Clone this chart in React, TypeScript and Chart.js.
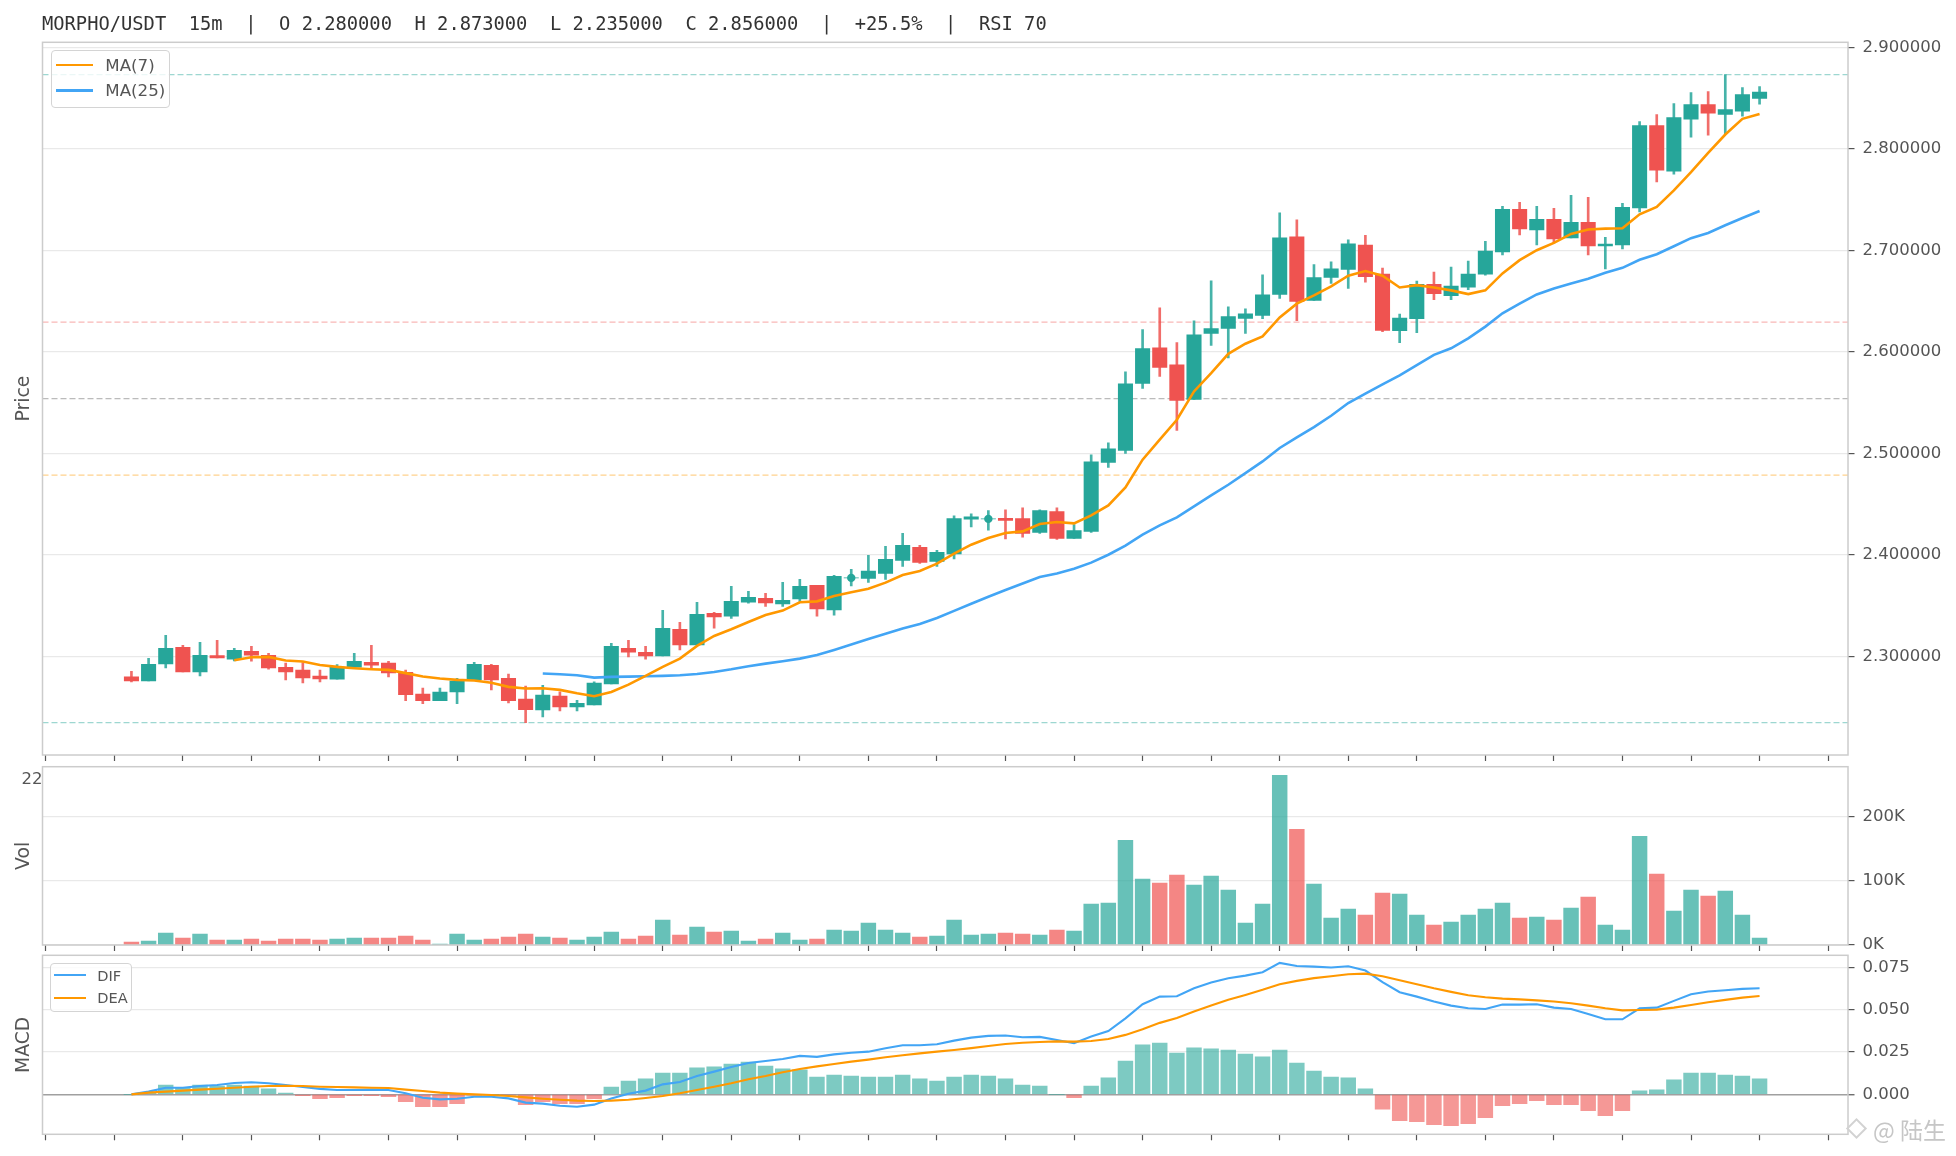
import React, { useEffect, useRef } from 'react';
import { Chart, registerables } from 'chart.js';

Chart.register(...registerables);

// ---------------- data ----------------
const opens = [
  2.2800, 2.2761, 2.2928, 2.3092, 2.2850, 2.3010, 2.2974, 2.3052, 2.3013, 2.2895,
  2.2866, 2.2807, 2.2778, 2.2895, 2.2944, 2.2935, 2.2846, 2.2630, 2.2565, 2.2653,
  2.2774, 2.2915, 2.2787, 2.2581, 2.2475, 2.2610, 2.2505, 2.2524, 2.2731, 2.3082,
  2.3043, 2.3007, 2.3269, 2.3115, 2.3426, 2.3397, 2.3535, 2.3574, 2.3518, 2.3567,
  2.3702, 2.3459, 2.3775, 2.3771, 2.3820, 2.3948, 2.4076, 2.3938, 2.4010, 2.4354,
  2.4356, 2.4361, 2.4358, 2.4223, 2.4427, 2.4164, 2.4233, 2.4912, 2.5031, 2.5690,
  2.6041, 2.5874, 2.5533, 2.6183, 2.6232, 2.6330, 2.6360, 2.6567, 2.7134, 2.6507,
  2.6734, 2.6813, 2.7051, 2.6766, 2.6210, 2.6328, 2.6665, 2.6553, 2.6638, 2.6766,
  2.6985, 2.7404, 2.7201, 2.7306, 2.7123, 2.7277, 2.7044, 2.7054, 2.7417, 2.8229,
  2.7781, 2.8291, 2.8435, 2.8340, 2.8370, 2.8497,
];
const highs = [
  2.2856, 2.2984, 2.3209, 2.3111, 2.3141, 2.3160, 2.3082, 2.3101, 2.3033, 2.2935,
  2.2941, 2.2866, 2.2922, 2.3033, 2.3111, 2.2954, 2.2866, 2.2689, 2.2689, 2.2787,
  2.2944, 2.2925, 2.2827, 2.2709, 2.2718, 2.2652, 2.2570, 2.2751, 2.3131, 2.3161,
  2.3102, 2.3456, 2.3338, 2.3535, 2.3436, 2.3692, 2.3643, 2.3623, 2.3731, 2.3761,
  2.3702, 2.3800, 2.3859, 2.3997, 2.4086, 2.4214, 2.4096, 2.4046, 2.4387, 2.4407,
  2.4437, 2.4446, 2.4466, 2.4446, 2.4466, 2.4299, 2.4988, 2.5106, 2.5805, 2.6219,
  2.6435, 2.6091, 2.6307, 2.6701, 2.6445, 2.6425, 2.6760, 2.7371, 2.7302, 2.6859,
  2.6888, 2.7105, 2.7149, 2.6825, 2.6373, 2.6697, 2.6786, 2.6835, 2.6894, 2.7090,
  2.7434, 2.7473, 2.7434, 2.7414, 2.7542, 2.7522, 2.7129, 2.7463, 2.8268, 2.8337,
  2.8445, 2.8553, 2.8563, 2.8730, 2.8602, 2.8612,
];
const lows = [
  2.2751, 2.2761, 2.2889, 2.2850, 2.2810, 2.2987, 2.2957, 2.2954, 2.2876, 2.2771,
  2.2742, 2.2751, 2.2778, 2.2895, 2.2876, 2.2801, 2.2565, 2.2536, 2.2565, 2.2536,
  2.2774, 2.2673, 2.2545, 2.2350, 2.2406, 2.2465, 2.2465, 2.2524, 2.2731, 2.2997,
  2.2974, 2.3007, 2.3066, 2.3115, 2.3279, 2.3377, 2.3525, 2.3495, 2.3495, 2.3544,
  2.3397, 2.3407, 2.3695, 2.3731, 2.3761, 2.3889, 2.3918, 2.3889, 2.3961, 2.4276,
  2.4246, 2.4158, 2.4177, 2.4213, 2.4154, 2.4164, 2.4223, 2.4863, 2.5001, 2.5641,
  2.5759, 2.5227, 2.5533, 2.6064, 2.5940, 2.6183, 2.6327, 2.6527, 2.6307, 2.6507,
  2.6675, 2.6626, 2.6688, 2.6200, 2.6092, 2.6190, 2.6514, 2.6514, 2.6612, 2.6756,
  2.6956, 2.7152, 2.7054, 2.7074, 2.7123, 2.6956, 2.6818, 2.7015, 2.7378, 2.7673,
  2.7751, 2.8115, 2.8134, 2.8144, 2.8321, 2.8439,
];
const closes = [
  2.2761, 2.2925, 2.3082, 2.2850, 2.3013, 2.2987, 2.3062, 2.3013, 2.2889, 2.2850,
  2.2791, 2.2781, 2.2895, 2.2954, 2.2915, 2.2840, 2.2624, 2.2565, 2.2650, 2.2758,
  2.2925, 2.2771, 2.2565, 2.2477, 2.2620, 2.2505, 2.2541, 2.2738, 2.3102, 2.3043,
  2.3007, 2.3279, 2.3115, 2.3417, 2.3390, 2.3544, 2.3584, 2.3528, 2.3554, 2.3692,
  2.3469, 2.3790, 2.3775, 2.3843, 2.3958, 2.4096, 2.3928, 2.4027, 2.4358, 2.4377,
  2.4356, 2.4341, 2.4213, 2.4437, 2.4164, 2.4240, 2.4919, 2.5047, 2.5687, 2.6032,
  2.5848, 2.5523, 2.6169, 2.6229, 2.6347, 2.6376, 2.6563, 2.7124, 2.6498, 2.6731,
  2.6819, 2.7065, 2.6740, 2.6213, 2.6334, 2.6665, 2.6573, 2.6648, 2.6766, 2.6992,
  2.7404, 2.7211, 2.7306, 2.7113, 2.7277, 2.7044, 2.7061, 2.7424, 2.8229, 2.7791,
  2.8308, 2.8435, 2.8350, 2.8386, 2.8533, 2.8560,
];
const ma7 = [
  null, null, null, null, null, null,
  2.2964, 2.2993, 2.2997, 2.2961, 2.2951, 2.2918, 2.2899, 2.2886, 2.2876, 2.2869,
  2.2837, 2.2804, 2.2784, 2.2771, 2.2765, 2.2742, 2.2702, 2.2686, 2.2688, 2.2672,
  2.2639, 2.2610, 2.2652, 2.2724, 2.2810, 2.2898, 2.2980, 2.3105, 2.3203, 2.3269,
  2.3341, 2.3410, 2.3453, 2.3535, 2.3544, 2.3597, 2.3633, 2.3669, 2.3728, 2.3804,
  2.3843, 2.3915, 2.4013, 2.4102, 2.4167, 2.4217, 2.4233, 2.4305, 2.4325, 2.4312,
  2.4391, 2.4489, 2.4666, 2.4939, 2.5136, 2.5332, 2.5611, 2.5792, 2.5982, 2.6081,
  2.6153, 2.6340, 2.6475, 2.6557, 2.6645, 2.6750, 2.6796, 2.6750, 2.6635, 2.6658,
  2.6635, 2.6606, 2.6570, 2.6606, 2.6773, 2.6904, 2.7002, 2.7074, 2.7162, 2.7205,
  2.7214, 2.7218, 2.7355, 2.7427, 2.7591, 2.7771, 2.7961, 2.8141, 2.8295, 2.8344,
];
const ma25 = [
  null, null, null, null, null, null, null, null, null, null, null, null,
  null, null, null, null, null, null, null, null, null, null, null, null,
  2.2833, 2.2826, 2.2816, 2.2793, 2.2800, 2.2803, 2.2806, 2.2810, 2.2816, 2.2829,
  2.2849, 2.2875, 2.2905, 2.2931, 2.2954, 2.2980, 2.3016, 2.3066, 2.3118, 2.3174,
  2.3226, 2.3276, 2.3321, 2.3380, 2.3450, 2.3520, 2.3590, 2.3655, 2.3720, 2.3783,
  2.3819, 2.3865, 2.3925, 2.4003, 2.4092, 2.4200, 2.4292, 2.4371, 2.4479, 2.4587,
  2.4692, 2.4807, 2.4922, 2.5054, 2.5159, 2.5260, 2.5372, 2.5497, 2.5590, 2.5680,
  2.5770, 2.5870, 2.5971, 2.6036, 2.6134, 2.6249, 2.6380, 2.6475, 2.6566, 2.6625,
  2.6674, 2.6720, 2.6779, 2.6828, 2.6907, 2.6962, 2.7041, 2.7120, 2.7172, 2.7247,
  2.7319, 2.7388,
];
const volumes = [
  4700, 6200, 18600, 10900, 17100, 7800, 7800, 9300, 6200, 9300,
  9300, 7800, 9300, 10900, 10900, 10900, 14000, 7800, 1600, 17100,
  7800, 9300, 12400, 17100, 12400, 10900, 7800, 12400, 20200, 9300,
  14000, 38800, 15500, 27900, 20200, 21700, 6200, 9300, 18600, 7800,
  9300, 23300, 21700, 34100, 23300, 18600, 12400, 14000, 38800, 15500,
  17100, 18600, 17100, 15500, 23300, 21700, 63600, 65100, 162800, 102300,
  96100, 108500, 93000, 107000, 85300, 34100, 63600, 263600, 179800, 94600,
  41900, 55800, 46500, 80600, 79100, 46500, 31000, 35700, 46500, 55800,
  65100, 41900, 43400, 38800, 57400, 74400, 31000, 23300, 169000, 110100,
  52700, 85300, 76000, 83700, 46500, 10900,
];
const dif = [
  0.0000, 0.0016, 0.0039, 0.0039, 0.0049, 0.0055, 0.0067, 0.0071, 0.0065, 0.0055,
  0.0043, 0.0032, 0.0026, 0.0026, 0.0028, 0.0026, 0.0006, -0.0020, -0.0030, -0.0026,
  -0.0014, -0.0014, -0.0024, -0.0049, -0.0055, -0.0067, -0.0073, -0.0061, -0.0024, 0.0004,
  0.0022, 0.0059, 0.0073, 0.0108, 0.0134, 0.0162, 0.0185, 0.0197, 0.0209, 0.0227,
  0.0221, 0.0236, 0.0246, 0.0252, 0.0272, 0.0290, 0.0290, 0.0296, 0.0317, 0.0335,
  0.0345, 0.0347, 0.0337, 0.0339, 0.0321, 0.0302, 0.0341, 0.0374, 0.0449, 0.0532,
  0.0577, 0.0579, 0.0626, 0.0660, 0.0686, 0.0701, 0.0721, 0.0776, 0.0758, 0.0754,
  0.0749, 0.0756, 0.0731, 0.0662, 0.0603, 0.0577, 0.0548, 0.0524, 0.0508, 0.0504,
  0.0530, 0.0530, 0.0532, 0.0512, 0.0504, 0.0475, 0.0443, 0.0443, 0.0508, 0.0512,
  0.0552, 0.0591, 0.0607, 0.0615, 0.0623, 0.0626,
];
const dea = [
  0.0000, 0.0010, 0.0016, 0.0022, 0.0028, 0.0033, 0.0039, 0.0045, 0.0049, 0.0051,
  0.0049, 0.0045, 0.0043, 0.0041, 0.0039, 0.0037, 0.0028, 0.0020, 0.0010, 0.0004,
  0.0000, -0.0004, -0.0010, -0.0018, -0.0026, -0.0032, -0.0037, -0.0039, -0.0037, -0.0032,
  -0.0022, -0.0010, 0.0006, 0.0026, 0.0045, 0.0065, 0.0089, 0.0108, 0.0130, 0.0150,
  0.0165, 0.0179, 0.0193, 0.0205, 0.0219, 0.0231, 0.0242, 0.0252, 0.0262, 0.0273,
  0.0285, 0.0297, 0.0305, 0.0309, 0.0313, 0.0311, 0.0315, 0.0327, 0.0351, 0.0384,
  0.0422, 0.0451, 0.0489, 0.0524, 0.0558, 0.0587, 0.0617, 0.0650, 0.0670, 0.0686,
  0.0697, 0.0709, 0.0713, 0.0697, 0.0674, 0.0650, 0.0626, 0.0605, 0.0585, 0.0573,
  0.0565, 0.0561, 0.0555, 0.0548, 0.0538, 0.0524, 0.0508, 0.0496, 0.0498, 0.0500,
  0.0512, 0.0528, 0.0544, 0.0558, 0.0571, 0.0581,
];
const macdHist = [
  0.0000, 0.0008, 0.0055, 0.0039, 0.0055, 0.0049, 0.0055, 0.0049, 0.0032, 0.0008,
  -0.0008, -0.0026, -0.0020, -0.0008, -0.0008, -0.0014, -0.0043, -0.0073, -0.0073, -0.0055,
  -0.0004, 0.0000, -0.0004, -0.0061, -0.0043, -0.0055, -0.0055, -0.0026, 0.0043, 0.0079,
  0.0091, 0.0126, 0.0126, 0.0156, 0.0162, 0.0179, 0.0191, 0.0167, 0.0150, 0.0144,
  0.0102, 0.0114, 0.0108, 0.0102, 0.0102, 0.0114, 0.0091, 0.0079, 0.0102, 0.0114,
  0.0108, 0.0091, 0.0055, 0.0049, 0.0000, -0.0020, 0.0049, 0.0097, 0.0197, 0.0292,
  0.0303, 0.0244, 0.0274, 0.0268, 0.0262, 0.0238, 0.0221, 0.0262, 0.0185, 0.0138,
  0.0102, 0.0097, 0.0032, -0.0087, -0.0156, -0.0162, -0.0179, -0.0185, -0.0173, -0.0138,
  -0.0067, -0.0055, -0.0037, -0.0061, -0.0061, -0.0097, -0.0126, -0.0097, 0.0020, 0.0026,
  0.0085, 0.0126, 0.0126, 0.0114, 0.0108, 0.0091,
];
// Fibonacci retracement levels between the period low and high
const fibLevels = [2.873, 2.6293, 2.554, 2.4787, 2.235];
const priceTicks = [2.3, 2.4, 2.5, 2.6, 2.7, 2.8, 2.9];
const volumeTicks = [0, 100000, 200000];
const macdTicks = [0, 0.025, 0.05, 0.075];
const xTickValues = [-5, -1, 3, 7, 11, 15, 19, 23, 27, 31, 35, 39, 43, 47, 51, 55, 59, 63, 67, 71, 75, 79, 83, 87, 91, 95, 99];
const titleText = 'MORPHO/USDT  15m  |  O 2.280000  H 2.873000  L 2.235000  C 2.856000  |  +25.5%  |  RSI 70';

// ---------------- styles ----------------
const X_MIN = -5.19;
const X_MAX = 100.16;
const PRICE_MIN = 2.2031;
const PRICE_MAX = 2.9049;
const VOL_MAX = 277000;
const MACD_MIN = -0.0236;
const MACD_MAX = 0.0821;
const UP = '#26a69a';
const DOWN = '#ef5350';
const ORANGE = '#ff9800';
const BLUE = '#42a5f5';
const fibColors = ['rgba(38,166,154,0.45)', 'rgba(239,83,80,0.42)', 'rgba(150,150,150,0.65)', 'rgba(255,152,0,0.45)', 'rgba(38,166,154,0.45)'];
const FONT = "'DejaVu Sans', sans-serif";
const tickFont = { family: FONT, size: 16.5 };

const framePlugin = {
  id: 'panelFrame',
  afterDatasetsDraw(chart: any) {
    const { ctx, chartArea: a } = chart;
    ctx.save();
    ctx.strokeStyle = '#cccccc';
    ctx.lineWidth = 1.5;
    ctx.strokeRect(a.left, a.top, a.right - a.left, a.bottom - a.top);
    ctx.restore();
  },
};

function makeX(height: number) {
  return {
    type: 'linear',
    position: 'bottom',
    min: X_MIN,
    max: X_MAX,
    offset: false,
    bounds: 'data',
    grid: { display: true, offset: false, drawOnChartArea: false, drawTicks: true, tickLength: 6, tickColor: '#555555', tickWidth: 1.2 },
    border: { display: false },
    ticks: { display: false },
    afterBuildTicks: (s: any) => { s.ticks = xTickValues.map((v) => ({ value: v })); },
    afterFit: (s: any) => { s.height = height; },
  };
}

function makeY(min: number, max: number, values: number[], fmt: (v: number) => string, zeroLine = false) {
  return {
    type: 'linear',
    position: 'right',
    min,
    max,
    bounds: 'data',
    beginAtZero: false,
    grid: {
      color: (c: any) => (zeroLine && c.tick && c.tick.value === 0 ? '#a0a0a0' : '#e9e9e9'),
      lineWidth: (c: any) => (zeroLine && c.tick && c.tick.value === 0 ? 1.5 : 1.2),
      drawTicks: true,
      tickLength: 6.5,
      tickColor: '#555555',
      tickWidth: 1.2,
    },
    border: { display: false },
    ticks: { color: '#555555', font: tickFont, padding: 8, callback: (v: any) => fmt(Number(v)) },
    afterBuildTicks: (s: any) => { s.ticks = values.map((v) => ({ value: v })); },
    afterFit: (s: any) => { s.width = 108; },
  };
}

function makeTitleAxis(text: string) {
  return {
    type: 'linear',
    position: 'left',
    display: true,
    grid: { display: false, drawTicks: false },
    border: { display: false },
    ticks: { display: false },
    title: {
      display: true,
      text,
      color: '#555555',
      font: { family: FONT, size: 18.75, lineHeight: 1.2 },
      padding: { top: 13.25, bottom: 0 },
    },
    afterFit: (s: any) => { s.width = 42.5; },
  };
}

function baseOptions(padTop: number, scales: any) {
  return {
    responsive: true,
    maintainAspectRatio: false,
    animation: false,
    events: [],
    layout: { padding: { top: padTop, left: 0, right: 0, bottom: 0 } },
    plugins: { legend: { display: false }, tooltip: { enabled: false } },
    scales,
  };
}

const idx = closes.map((_, i) => i);
const isUp = idx.map((i) => closes[i] >= opens[i]);

function priceConfig(): any {
  const fibSets = fibLevels.map((lv, k) => ({
    type: 'line',
    data: [{ x: X_MIN, y: lv }, { x: X_MAX, y: lv }],
    borderColor: fibColors[k],
    borderWidth: 1.2,
    borderDash: [6, 3],
    pointRadius: 0,
    tension: 0,
    fill: false,
    order: 50,
    yAxisID: 'y',
  }));
  return {
    type: 'bar',
    data: {
      datasets: [
        ...fibSets,
        {
          type: 'bar',
          data: idx.map((i) => ({ x: i, y: [lows[i], highs[i]] })),
          backgroundColor: idx.map((i) => (isUp[i] ? 'rgba(38,166,154,0.85)' : 'rgba(239,83,80,0.85)')),
          borderWidth: 0,
          barThickness: 2,
          grouped: false,
          order: 40,
          yAxisID: 'y',
        },
        {
          type: 'bar',
          data: idx.map((i) => ({ x: i, y: [opens[i], closes[i]] })),
          backgroundColor: idx.map((i) => (isUp[i] ? UP : DOWN)),
          borderWidth: 0,
          barThickness: 14.4,
          grouped: false,
          order: 30,
          yAxisID: 'y',
        },
        {
          type: 'line',
          data: idx.filter((i) => opens[i] === closes[i]).map((i) => ({ x: i, y: closes[i] })),
          showLine: false,
          pointRadius: 4.2,
          pointBackgroundColor: UP,
          pointBorderWidth: 0,
          order: 25,
          yAxisID: 'y',
        },
        {
          type: 'line',
          label: 'MA(25)',
          data: idx.filter((i) => ma25[i] !== null).map((i) => ({ x: i, y: ma25[i] })),
          borderColor: BLUE,
          borderWidth: 2.6,
          pointRadius: 0,
          tension: 0,
          fill: false,
          order: 20,
          yAxisID: 'y',
        },
        {
          type: 'line',
          label: 'MA(7)',
          data: idx.filter((i) => ma7[i] !== null).map((i) => ({ x: i, y: ma7[i] })),
          borderColor: ORANGE,
          borderWidth: 2.6,
          pointRadius: 0,
          tension: 0,
          fill: false,
          order: 10,
          yAxisID: 'y',
        },
      ],
    },
    options: baseOptions(42.3, {
      x: makeX(45),
      y: makeY(PRICE_MIN, PRICE_MAX, priceTicks, (v) => v.toFixed(6)),
      yl: makeTitleAxis('Price'),
    }),
    plugins: [framePlugin],
  };
}

function volumeConfig(): any {
  return {
    type: 'bar',
    data: {
      datasets: [
        {
          type: 'bar',
          label: 'Vol',
          data: idx.map((i) => ({ x: i, y: volumes[i] })),
          backgroundColor: idx.map((i) => (isUp[i] ? 'rgba(38,166,154,0.7)' : 'rgba(239,83,80,0.7)')),
          borderWidth: 0,
          barThickness: 14.8,
          grouped: false,
          yAxisID: 'y',
        },
      ],
    },
    options: baseOptions(36.7, {
      x: makeX(35),
      y: makeY(0, VOL_MAX, volumeTicks, (v) => `${Math.round(v / 1000)}K`),
      yl: makeTitleAxis('Vol'),
    }),
    plugins: [framePlugin],
  };
}

function macdConfig(): any {
  return {
    type: 'bar',
    data: {
      datasets: [
        {
          type: 'bar',
          label: 'MACD',
          data: idx.map((i) => ({ x: i, y: macdHist[i] })),
          backgroundColor: idx.map((i) => (macdHist[i] >= 0 ? 'rgba(38,166,154,0.6)' : 'rgba(239,83,80,0.6)')),
          borderWidth: 0,
          barThickness: 14.8,
          grouped: false,
          order: 30,
          yAxisID: 'y',
        },
        {
          type: 'line',
          label: 'DIF',
          data: idx.map((i) => ({ x: i, y: dif[i] })),
          borderColor: BLUE,
          borderWidth: 2.1,
          pointRadius: 0,
          tension: 0,
          fill: false,
          order: 20,
          yAxisID: 'y',
        },
        {
          type: 'line',
          label: 'DEA',
          data: idx.map((i) => ({ x: i, y: dea[i] })),
          borderColor: ORANGE,
          borderWidth: 2.1,
          pointRadius: 0,
          tension: 0,
          fill: false,
          order: 10,
          yAxisID: 'y',
        },
      ],
    },
    options: baseOptions(35.3, {
      x: makeX(21.7),
      y: makeY(MACD_MIN, MACD_MAX, macdTicks, (v) => v.toFixed(3), true),
      yl: makeTitleAxis('MACD'),
    }),
    plugins: [framePlugin],
  };
}

const abs = (left: number, top: number, extra: any = {}) => ({ position: 'absolute' as const, left, top, ...extra });

function LegendLine({ left, top, width, color, thick }: any) {
  return <div style={abs(left, top - thick / 2, { width, height: thick, background: color })} />;
}

function LegendText({ left, top, size, lh, children }: any) {
  return (
    <div style={abs(left, top, { fontFamily: FONT, fontSize: size, lineHeight: `${lh}px`, color: '#555555', whiteSpace: 'pre' })}>
      {children}
    </div>
  );
}

export default function App() {
  const priceRef = useRef<HTMLCanvasElement>(null);
  const volRef = useRef<HTMLCanvasElement>(null);
  const macdRef = useRef<HTMLCanvasElement>(null);

  useEffect(() => {
    Chart.defaults.font.family = FONT;
    Chart.defaults.color = '#555555';
    const charts: any[] = [];
    if (priceRef.current) charts.push(new Chart(priceRef.current, priceConfig()));
    if (volRef.current) charts.push(new Chart(volRef.current, volumeConfig()));
    if (macdRef.current) charts.push(new Chart(macdRef.current, macdConfig()));
    return () => charts.forEach((c) => c.destroy());
  }, []);

  return (
    <div style={abs(0, 0, { width: 1956, height: 1156, background: '#ffffff', overflow: 'hidden' })}>
      <div style={abs(0, 0, { width: 1956, height: 800 })}>
        <canvas ref={priceRef} style={{ display: 'block' }} />
      </div>
      <div style={abs(0, 730, { width: 1956, height: 250 })}>
        <canvas ref={volRef} style={{ display: 'block' }} />
      </div>
      <div style={abs(0, 920, { width: 1956, height: 236 })}>
        <canvas ref={macdRef} style={{ display: 'block' }} />
      </div>

      {/* header */}
      <div style={abs(42, 14.5, { fontFamily: "'DejaVu Sans Mono', monospace", fontSize: 18.75, lineHeight: '18.75px', color: '#333333', whiteSpace: 'pre' })}>
        {titleText}
      </div>

      {/* price legend */}
      <div style={abs(50.5, 50, { width: 119.3, height: 58.3, boxSizing: 'border-box', border: '1.4px solid #d4d4d4', borderRadius: 4, background: 'rgba(255,255,255,0.8)' })} />
      <LegendLine left={56} top={65} width={37} color={ORANGE} thick={2.6} />
      <LegendText left={105.3} top={56} size={16.67} lh={20}>MA(7)</LegendText>
      <LegendLine left={56} top={90.7} width={37} color={BLUE} thick={2.6} />
      <LegendText left={105.3} top={81.3} size={16.67} lh={20}>MA(25)</LegendText>

      {/* partially hidden time label */}
      <div style={abs(21.5, 771.4, { fontFamily: FONT, fontSize: 16.5, lineHeight: '16.5px', color: '#555555' })}>22</div>

      {/* macd legend */}
      <div style={abs(50, 962.7, { width: 81.7, height: 49, boxSizing: 'border-box', border: '1.4px solid #d4d4d4', borderRadius: 4, background: 'rgba(255,255,255,0.8)' })} />
      <LegendLine left={54.3} top={975.3} width={31.7} color={BLUE} thick={2.1} />
      <LegendText left={97.3} top={966.6} size={14.6} lh={18}>DIF</LegendText>
      <LegendLine left={54.3} top={997.7} width={31.7} color={ORANGE} thick={2.1} />
      <LegendText left={97.3} top={989} size={14.6} lh={18}>DEA</LegendText>

      {/* watermark */}
      <div style={abs(1849, 1121, { width: 15, height: 15, boxSizing: 'border-box', border: '2.5px solid #d2d2d2', transform: 'rotate(45deg)' })} />
      <div style={abs(1873, 1117.5, { fontFamily: "'Noto Sans CJK SC', sans-serif", fontSize: 23, lineHeight: '23px', color: '#c6c6c6', whiteSpace: 'pre', textShadow: '0 0 2px #ffffff' })}>
        @ 陆生
      </div>
    </div>
  );
}
